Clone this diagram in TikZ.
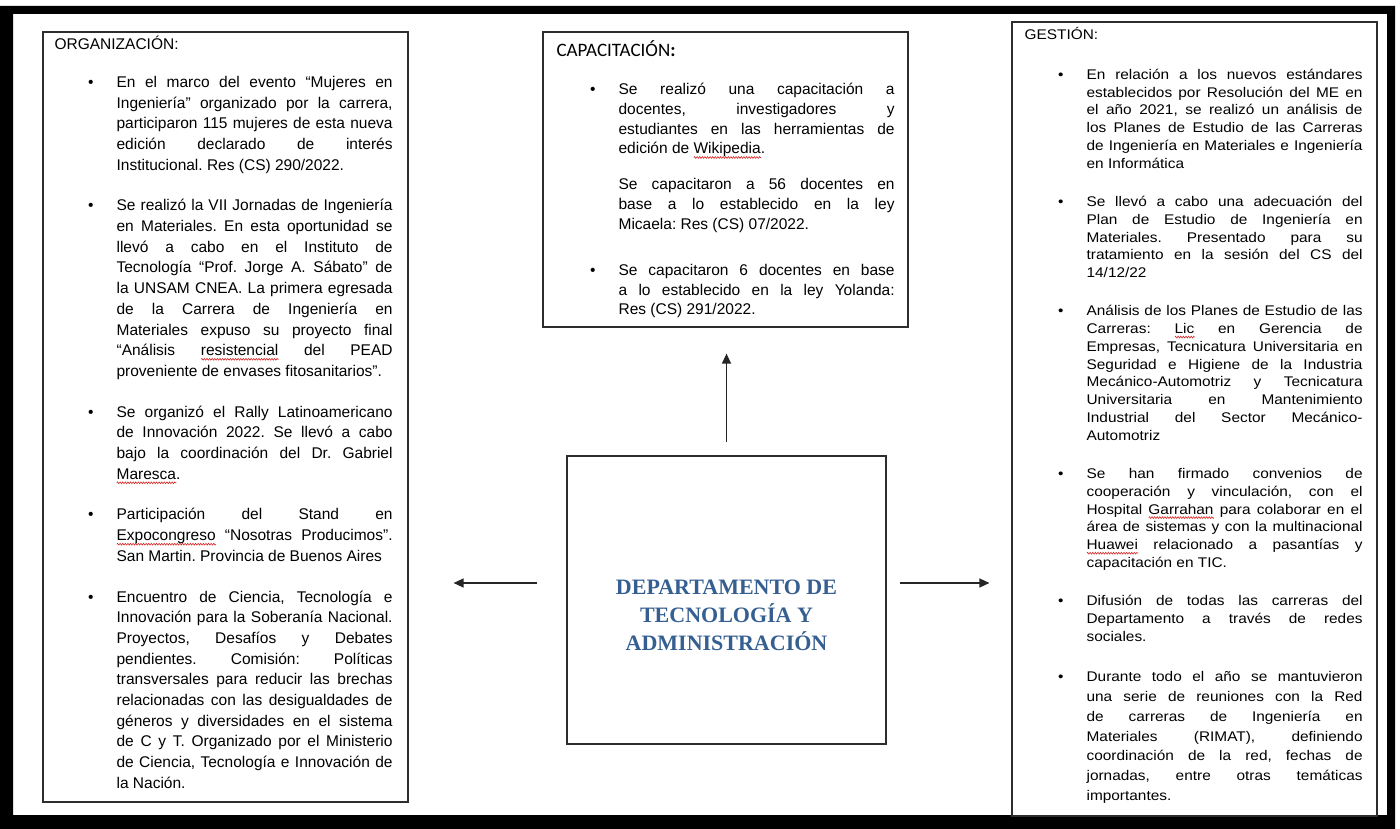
\documentclass[tikz,border=0pt]{standalone}
\usepackage{fontspec}
\setmainfont{Liberation Sans}
\newfontfamily\deptserif{Liberation Serif}
\newfontfamily\gestfont[FakeStretch=1.1]{Liberation Sans}
\newfontfamily\capafont{Carlito}
\usetikzlibrary{arrows.meta,positioning,calc,decorations.pathmorphing}

\definecolor{deptblue}{RGB}{54,95,145}
\definecolor{boxgray}{RGB}{45,45,45}
\definecolor{spellred}{RGB}{215,40,40}

% red spell-check wave under a word
\newsavebox\spellbox
\newcommand\spellmark[1]{\sbox\spellbox{#1}%
  \rlap{\tikz[baseline=0pt]\draw[spellred,line width=0.6pt,decorate,
    decoration={zigzag,amplitude=0.9pt,segment length=2.6pt}]
    (0pt,-3.5pt) -- (\wd\spellbox,-3.5pt);}\usebox\spellbox}

% bullet list used in the three side boxes
\newenvironment{deptitems}[2]{%
  \begin{list}{\textbullet}{%
    \setlength{\leftmargin}{62pt}\setlength{\labelwidth}{6pt}%
    \setlength{\labelsep}{23pt}\setlength{\topsep}{0pt}%
    \setlength{\partopsep}{0pt}\setlength{\itemsep}{#1}%
    \setlength{\parsep}{#2}\setlength{\listparindent}{0pt}}}%
  {\end{list}}

\tolerance=10000
\hbadness=10000
\hfuzz=20pt
\hyphenpenalty=10000
\exhyphenpenalty=10000
\frenchspacing

\begin{document}
\begin{tikzpicture}[x=1pt,y=-1pt,
  panel/.style={draw=boxgray,line width=1.2pt,rectangle,inner sep=0pt,minimum width=365pt},
  listtext/.style={anchor=base west,text width=338pt,inner sep=0pt,align=justify},
  link/.style={-{Triangle[length=10pt,width=9pt]},line width=1.3pt,draw=black!85},
  depttitle/.style={align=center,text=deptblue,font=\deptserif\bfseries\fontsize{22}{28}\selectfont}]
  \useasboundingbox (0,0) rectangle (1400,829);

  % thick outer frame
  \fill[black,even odd rule] (0,6) rectangle (1395,829) (13,14) rectangle (1387,815);

  \node[panel,minimum height=770pt] (org) at (225.5,417) {};
  \node[panel,minimum height=295pt] (capa) at (725.5,179.5) {};
  \node[panel,minimum width=319pt,minimum height=288pt] (dept) at (726.5,600) {};
  \node[panel,minimum height=794pt] (gest) at (1194.5,419) {};

  \node[depttitle] (depttxt) at ([yshift=-15pt]dept.center)
    {DEPARTAMENTO DE\\TECNOLOGÍA Y\\ADMINISTRACIÓN};

  \node[listtext,font=\fontsize{15.5}{20.7}\selectfont] (orgtxt)
    at ([shift={(12,18)}]org.north west) {ORGANIZACIÓN:\par\vspace{17.3pt}
    \begin{deptitems}{20pt}{0pt}
      \item En el marco del evento “Mujeres en\linebreak Ingeniería” organizado por la carrera,\linebreak participaron 115 mujeres de esta nueva\linebreak edición declarado de interés\linebreak Institucional. Res (CS) 290/2022.
      \item Se realizó la VII Jornadas de Ingeniería\linebreak en Materiales. En esta oportunidad se\linebreak llevó a cabo en el Instituto de\linebreak Tecnología “Prof. Jorge A. Sábato” de\linebreak la UNSAM CNEA. La primera egresada\linebreak de la Carrera de Ingeniería en\linebreak Materiales expuso su proyecto final\linebreak “Análisis \spellmark{resistencial} del PEAD\linebreak proveniente de envases fitosanitarios”.
      \item Se organizó el Rally Latinoamericano\linebreak de Innovación 2022. Se llevó a cabo\linebreak bajo la coordinación del Dr. Gabriel\linebreak \spellmark{Maresca}.
      \item Participación del Stand en\linebreak \spellmark{Expocongreso} “Nosotras Producimos”.\linebreak San Martin. Provincia de Buenos Aires
      \item Encuentro de Ciencia, Tecnología e\linebreak Innovación para la Soberanía Nacional.\linebreak Proyectos, Desafíos y Debates\linebreak pendientes. Comisión: Políticas\linebreak transversales para reducir las brechas\linebreak relacionadas con las desigualdades de\linebreak géneros y diversidades en el sistema\linebreak de C y T. Organizado por el Ministerio\linebreak de Ciencia, Tecnología e Innovación de\linebreak la Nación.
    \end{deptitems}};

  \node[listtext,font=\fontsize{15.5}{19.7}\selectfont] (capatxt)
    at ([shift={(14,25.5)}]capa.north west)
    {{\capafont\fontsize{19}{20}\selectfont CAPACITACIÓN\textbf{:}\par}\vspace{18.3pt}
    \begin{deptitems}{10pt}{16.3pt}
      \item Se realizó una capacitación a\linebreak docentes, investigadores y\linebreak estudiantes en las herramientas de\linebreak edición de \spellmark{Wikipedia}.\par
        Se capacitaron a 56 docentes en\linebreak base a lo establecido en la ley\linebreak Micaela: Res (CS) 07/2022.
      \item Se capacitaron 6 docentes en base\linebreak a lo establecido en la ley Yolanda:\linebreak Res (CS) 291/2022.
    \end{deptitems}};

  \node[listtext,font=\gestfont\fontsize{14}{17.8}\selectfont] (gesttxt)
    at ([shift={(13,18)}]gest.north west) {GESTIÓN:\par\vspace{22.2pt}
    \begin{deptitems}{20.3pt}{0pt}
      \item En relación a los nuevos estándares\linebreak establecidos por Resolución del ME en\linebreak el año 2021, se realizó un análisis de\linebreak los Planes de Estudio de las Carreras\linebreak de Ingeniería en Materiales e Ingeniería\linebreak en Informática
      \item Se llevó a cabo una adecuación del\linebreak Plan de Estudio de Ingeniería en\linebreak Materiales. Presentado para su\linebreak tratamiento en la sesión del CS del\linebreak 14/12/22
      \item Análisis de los Planes de Estudio de las\linebreak Carreras: \spellmark{Lic} en Gerencia de\linebreak Empresas, Tecnicatura Universitaria en\linebreak Seguridad e Higiene de la Industria\linebreak Mecánico-Automotriz y Tecnicatura\linebreak Universitaria en Mantenimiento\linebreak Industrial del Sector Mecánico-\linebreak Automotriz
      \item Se han firmado convenios de\linebreak cooperación y vinculación, con el\linebreak Hospital \spellmark{Garrahan} para colaborar en el\linebreak área de sistemas y con la multinacional\linebreak \spellmark{Huawei} relacionado a pasantías y\linebreak capacitación en TIC.
      \item Difusión de todas las carreras del\linebreak Departamento a través de redes\linebreak sociales.
      \item \fontsize{14}{19.9}\selectfont Durante todo el año se mantuvieron\linebreak una serie de reuniones con la Red\linebreak de carreras de Ingeniería en\linebreak Materiales (RIMAT), definiendo\linebreak coordinación de la red, fechas de\linebreak jornadas, entre otras temáticas\linebreak importantes.
    \end{deptitems}};

  % arrows from the department to the three boxes
  \draw[link,shorten <=13pt,shorten >=26pt] (dept.north) -- (dept.north |- capa.south);
  \draw[link,shorten <=13pt,shorten >=22pt] ([yshift=17pt]dept.east) -- ([yshift=17pt]dept.east -| gest.west);
  \draw[link,shorten <=29pt,shorten >=45pt] ([yshift=17pt]dept.west) -- ([yshift=17pt]dept.west -| org.east);
\end{tikzpicture}
\end{document}
